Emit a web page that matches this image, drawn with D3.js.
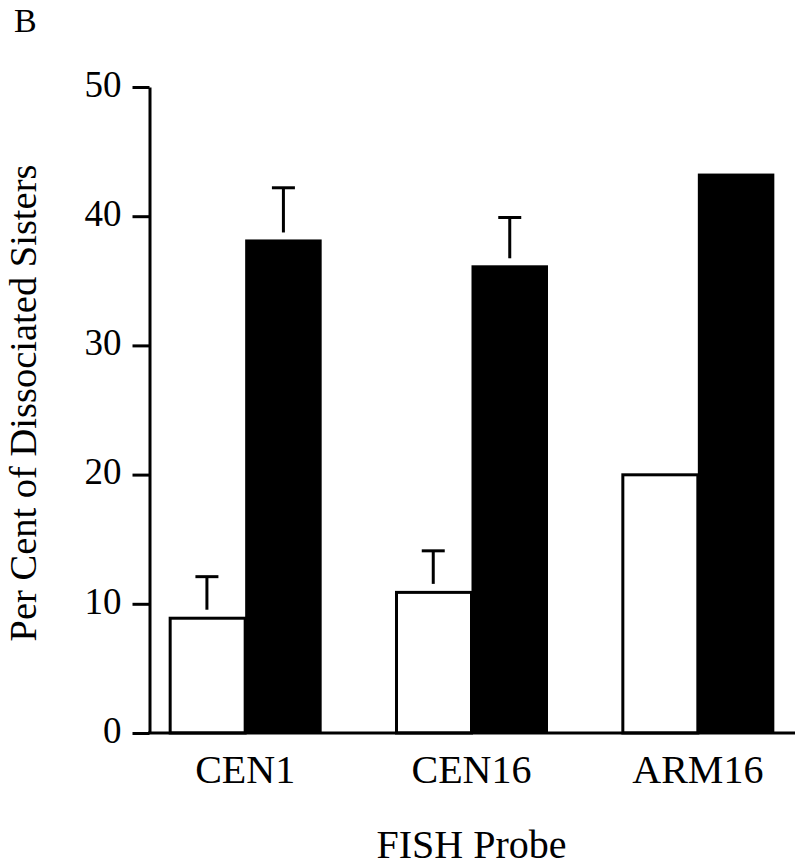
<!DOCTYPE html>
<html>
<head>
<meta charset="utf-8">
<script src="https://cdn.jsdelivr.net/npm/d3@7/dist/d3.min.js"></script>
<style>
  html, body { margin: 0; padding: 0; background: #fff; }
  svg { display: block; }
  text { font-family: "Liberation Serif", "Times New Roman", serif; fill: #000; }
</style>
</head>
<body>
<svg id="chart" width="800" height="867"></svg>
<script>
// ---- data ----
const categories = ["CEN1", "CEN16", "ARM16"];
const seriesNames = ["open", "filled"];
const openValues = [9, 11, 20.1];
const filledValues = [38.2, 36.2, 43.3];
const openErrors = [3.1, 3.1, null];
const filledErrors = [4.0, 3.7, null];
const yTicks = [0, 10, 20, 30, 40, 50];
const panelLabel = "B";
const yTitle = "Per Cent of Dissociated Sisters";
const xTitle = "FISH Probe";

// ---- layout ----
const svg = d3.select("#chart");
const axisX = 149.5;
const baseY = 733;
const topY = 87;
const plotRight = 795;

const y = d3.scaleLinear().domain([0, 50]).range([baseY, topY]);
const x0 = d3.scaleBand().domain(categories).range([132, 811])
  .paddingInner(0.324).paddingOuter(0.162);
const x1 = d3.scaleBand().domain(seriesNames).range([0, x0.bandwidth()]).padding(0);

const rows = categories.map((c, i) => ({
  cat: c,
  bars: [
    { s: "open", v: openValues[i], e: openErrors[i] },
    { s: "filled", v: filledValues[i], e: filledErrors[i] }
  ]
}));

// bars
const groups = svg.append("g").selectAll("g").data(rows).join("g")
  .attr("transform", d => `translate(${x0(d.cat)},0)`);

groups.selectAll("rect").data(d => d.bars).join("rect")
  .attr("x", d => x1(d.s) + (d.s === "open" ? 1.5 : 0))
  .attr("y", d => y(d.v) + (d.s === "open" ? 1.5 : 0))
  .attr("width", d => x1.bandwidth() - (d.s === "open" ? 1.5 : 0))
  .attr("height", d => baseY - y(d.v) - (d.s === "open" ? 1.5 : 0))
  .attr("fill", d => d.s === "open" ? "#fff" : "#000")
  .attr("stroke", d => d.s === "open" ? "#000" : "none")
  .attr("stroke-width", 3);

// error bars (T shapes, detached slightly from bar tops)
const errs = groups.selectAll("g.err").data(d => d.bars.filter(b => b.e != null)).join("g")
  .attr("class", "err");
errs.append("line")
  .attr("x1", d => x1(d.s) + x1.bandwidth() / 2)
  .attr("x2", d => x1(d.s) + x1.bandwidth() / 2)
  .attr("y1", d => y(d.v) - 7)
  .attr("y2", d => y(d.v + d.e))
  .attr("stroke", "#000").attr("stroke-width", 3);
errs.append("line")
  .attr("x1", d => x1(d.s) + x1.bandwidth() / 2 - 11.5)
  .attr("x2", d => x1(d.s) + x1.bandwidth() / 2 + 11.5)
  .attr("y1", d => y(d.v + d.e))
  .attr("y2", d => y(d.v + d.e))
  .attr("stroke", "#000").attr("stroke-width", 3);

// y axis
const yAxis = d3.axisLeft(y).tickValues(yTicks).tickSize(17).tickSizeOuter(0).tickPadding(11);
const gy = svg.append("g").attr("transform", `translate(${axisX},0)`).call(yAxis);
gy.select(".domain").attr("stroke", "#000").attr("stroke-width", 3);
gy.selectAll(".tick line").attr("stroke", "#000").attr("stroke-width", 3);
gy.selectAll(".tick text")
  .attr("font-size", 37)
  .attr("font-family", "Liberation Serif, Times New Roman, serif")
  .attr("dy", "0.25em");

// x baseline
svg.append("line")
  .attr("x1", axisX - 1.5).attr("x2", plotRight)
  .attr("y1", baseY).attr("y2", baseY)
  .attr("stroke", "#000").attr("stroke-width", 3);

// category labels
const xAxis = d3.axisBottom(x0).tickSize(0).tickPadding(0);
const gx = svg.append("g").attr("transform", `translate(0,${baseY})`).call(xAxis);
gx.select(".domain").remove();
gx.selectAll(".tick text")
  .attr("font-size", 40)
  .attr("font-family", "Liberation Serif, Times New Roman, serif")
  .attr("y", 50).attr("dy", 0);

// titles
svg.append("text").attr("x", 14).attr("y", 32).attr("font-size", 34).text(panelLabel);
svg.append("text")
  .attr("transform", "translate(36,403) rotate(-90)")
  .attr("text-anchor", "middle")
  .attr("font-size", 38.5)
  .text(yTitle);
svg.append("text")
  .attr("x", x0("CEN16") + x0.bandwidth() / 2)
  .attr("y", 858)
  .attr("text-anchor", "middle")
  .attr("font-size", 40)
  .text(xTitle);
</script>
</body>
</html>
